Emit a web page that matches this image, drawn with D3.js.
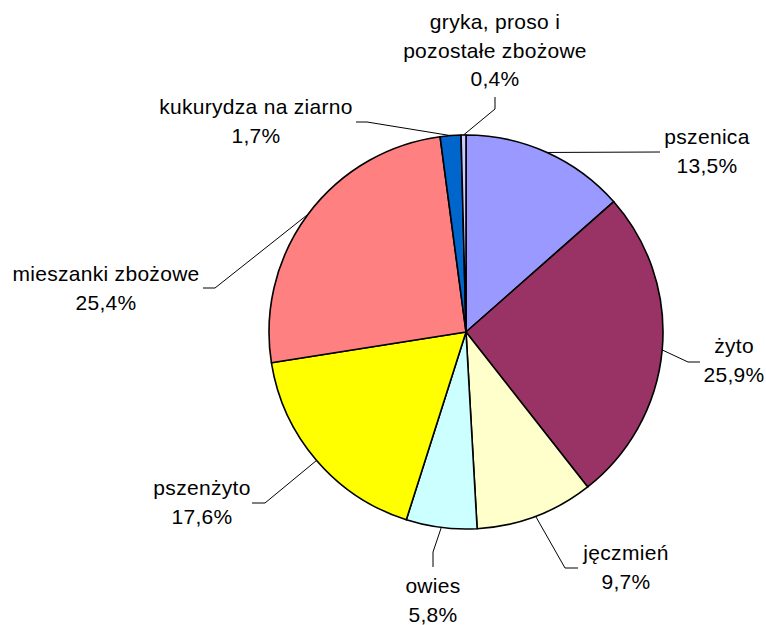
<!DOCTYPE html>
<html>
<head>
<meta charset="utf-8">
<script src="https://cdn.jsdelivr.net/npm/d3@7"></script>
<style>
  body { margin: 0; background: #fff; }
  svg { display: block; }
  text { font-family: "Liberation Sans", Arial, sans-serif; font-size: 21px; fill: #000; letter-spacing: 0.3px; }
</style>
</head>
<body>
<svg id="chart"></svg>
<script>
// ── Data ─────────────────────────────────────────────────────────────────────
const categories = ["pszenica", "żyto", "jęczmień", "owies", "pszenżyto",
                    "mieszanki zbożowe", "kukurydza na ziarno", "gryka, proso i pozostałe zbożowe"];
const shares     = [13.5, 25.9, 9.7, 5.8, 17.6, 25.4, 1.7, 0.4];
const labelLines = [["pszenica"], ["żyto"], ["jęczmień"], ["owies"], ["pszenżyto"],
                    ["mieszanki zbożowe"], ["kukurydza na ziarno"], ["gryka, proso i", "pozostałe zbożowe"]];
const colors     = ["#9999FF", "#993366", "#FFFFCC", "#CCFFFF", "#FFFF00",
                    "#FF8080", "#0066CC", "#CCCCFF"];

// ── Label layout (text centre x, first baseline, leader elbow & end) ────────
const labelLayout = [
  { x: 707, y: 144, elbow: null,       end: [660, 152] },
  { x: 734, y: 353, elbow: [688, 362], end: [700, 362] },
  { x: 626, y: 560, elbow: [565, 568], end: [578, 568] },
  { x: 433, y: 593, elbow: [433, 552], end: [433, 567] },
  { x: 202, y: 495, elbow: [265, 503], end: [252, 503] },
  { x: 106, y: 281, elbow: [215, 288], end: [203, 288] },
  { x: 256, y: 114, elbow: [367, 122], end: [356, 122] },
  { x: 495, y: 29,  elbow: [495, 109], end: [495, 97] }
];

const W = 766, H = 625;
const cx = 466, cy = 332, R = 197;
const lineH = 28.5;

const svg = d3.select("#chart").attr("width", W).attr("height", H);

const data = categories.map((c, i) => ({ name: c, value: shares[i], i }));
const pie  = d3.pie().sort(null).value(d => d.value);
const arc  = d3.arc().innerRadius(0).outerRadius(R);
const arcs = pie(data);

const g = svg.append("g").attr("transform", `translate(${cx},${cy})`);

g.selectAll("path.slice")
  .data(arcs)
  .join("path")
  .attr("class", "slice")
  .attr("d", arc)
  .attr("fill", d => colors[d.data.i])
  .attr("stroke", "#000")
  .attr("stroke-width", 1.6)
  .attr("stroke-linejoin", "round");

// Leader lines + labels
const fmt = v => v.toFixed(1).replace(".", ",") + "%";
arcs.forEach(d => {
  const a = (d.startAngle + d.endAngle) / 2;
  const sx = cx + R * Math.sin(a), sy = cy - R * Math.cos(a);
  const L = labelLayout[d.data.i];
  const elbow = L.elbow || [sx, sy];
  svg.append("polyline")
    .attr("points", [[sx, sy], elbow, L.end].map(p => p.join(",")).join(" "))
    .attr("fill", "none")
    .attr("stroke", "#000")
    .attr("stroke-width", 1);

  const lines = labelLines[d.data.i].concat([fmt(d.data.value)]);
  const t = svg.append("text").attr("text-anchor", "middle");
  lines.forEach((ln, k) => {
    t.append("tspan").attr("x", L.x).attr("y", L.y + k * lineH).text(ln);
  });
});
</script>
</body>
</html>
